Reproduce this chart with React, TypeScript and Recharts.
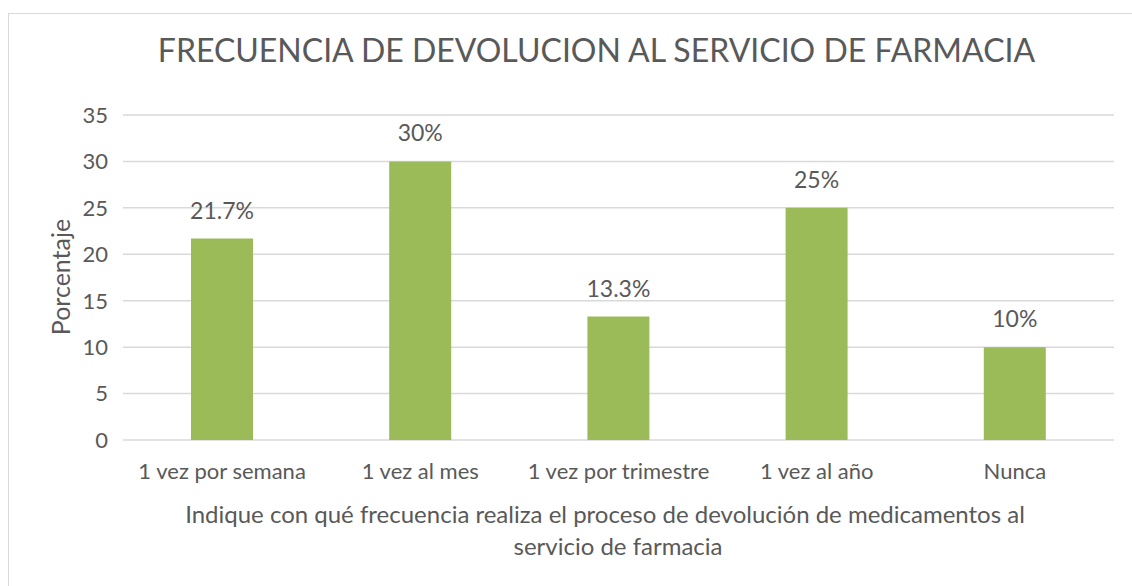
import React from 'react';
import { BarChart, Bar, XAxis, YAxis, CartesianGrid, LabelList } from 'recharts';

const categories = ['1 vez por semana', '1 vez al mes', '1 vez por trimestre', '1 vez al año', 'Nunca'];
const values = [21.7, 30, 13.3, 25, 10];
const valueLabels = ['21.7%', '30%', '13.3%', '25%', '10%'];
const yTicks = [0, 5, 10, 15, 20, 25, 30, 35];

const data = categories.map((c, i) => ({ name: c, value: values[i], label: valueLabels[i] }));

const FONT = 'Lato, "Open Sans", sans-serif';
const TEXT = '#595959';

export default function App() {
  return (
    <div
      style={{
        position: 'fixed',
        left: 8,
        top: 13,
        width: 1130,
        height: 580,
        border: '1px solid #d9d9d9',
        background: '#fff',
        fontFamily: FONT,
        color: TEXT,
      }}
    >
      {/* titulo */}
      <div
        style={{
          position: 'absolute',
          left: 0,
          top: 16,
          width: 1175,
          textAlign: 'center',
          fontSize: 32,
          whiteSpace: 'nowrap',
        }}
      >
        FRECUENCIA DE DEVOLUCION AL SERVICIO DE FARMACIA
      </div>

      {/* titulo eje Y */}
      <div style={{ position: 'absolute', left: 51, top: 263, width: 0, height: 0 }}>
        <div
          style={{
            position: 'absolute',
            transform: 'translate(-50%, -50%) rotate(-90deg)',
            fontSize: 25,
            whiteSpace: 'nowrap',
          }}
        >
          Porcentaje
        </div>
      </div>

      {/* titulo eje X */}
      <div
        style={{
          position: 'absolute',
          left: 96,
          top: 484,
          width: 1000,
          textAlign: 'center',
          fontSize: 24,
          lineHeight: '32px',
          whiteSpace: 'nowrap',
        }}
      >
        Indique con qué frecuencia realiza el proceso de devolución de medicamentos al
      </div>
      <div
        style={{
          position: 'absolute',
          left: 109,
          top: 516,
          width: 1000,
          textAlign: 'center',
          fontSize: 24,
          lineHeight: '32px',
          whiteSpace: 'nowrap',
        }}
      >
        servicio de farmacia
      </div>

      <BarChart
        width={1123}
        height={572}
        data={data}
        margin={{ top: 101, right: 18, left: 0, bottom: 116 }}
      >
        <CartesianGrid vertical={false} stroke="#d9d9d9" strokeWidth={1.5} />
        <XAxis
          dataKey="name"
          axisLine={false}
          tickLine={false}
          height={30}
          tickMargin={17}
          tick={{ fontSize: 22, fill: TEXT, fontFamily: FONT }}
          interval={0}
        />
        <YAxis
          domain={[0, 35]}
          ticks={yTicks}
          width={114}
          axisLine={false}
          tickLine={false}
          tickMargin={9}
          tick={{ fontSize: 22, fill: TEXT, fontFamily: FONT }}
        />
        <Bar dataKey="value" fill="#9bbb59" barSize={62} isAnimationActive={false}>
          <LabelList
            dataKey="label"
            position="top"
            offset={20}
            style={{ fontSize: 23, fill: TEXT, fontFamily: FONT }}
          />
        </Bar>
      </BarChart>
    </div>
  );
}
